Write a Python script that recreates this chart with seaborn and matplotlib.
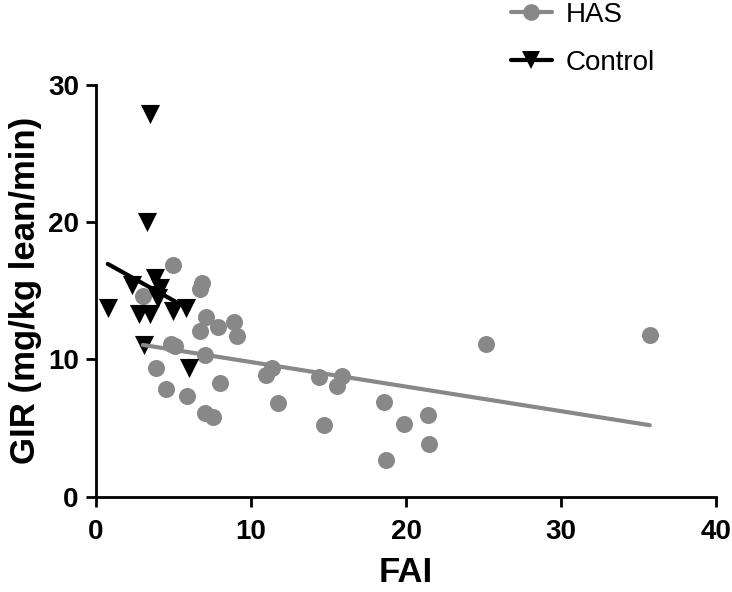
"""GIR vs FAI scatter with linear fits for HAS and Control groups."""

import matplotlib
matplotlib.use("Agg")
import matplotlib.pyplot as plt
from matplotlib.lines import Line2D
import pandas as pd
import seaborn as sns

# HAS group (grey circles)
has_fai = [4.98, 6.85, 6.70, 3.05, 7.11, 6.74, 7.92, 8.89, 9.11, 4.87, 5.13,
           7.02, 3.88, 7.99, 4.55, 5.92, 7.06, 7.56, 11.37, 11.0, 14.37, 15.88,
           15.56, 11.73, 14.7, 18.57, 19.86, 21.4, 21.5, 18.72, 25.17, 35.7]
has_gir = [16.9, 15.6, 15.1, 14.65, 13.1, 12.1, 12.4, 12.7, 11.7, 11.15, 10.95,
           10.3, 9.37, 8.3, 7.84, 7.35, 6.13, 5.84, 9.37, 8.88, 8.71, 8.76,
           8.08, 6.86, 5.23, 6.89, 5.28, 5.96, 3.85, 2.68, 11.12, 11.8]

# Control group (black triangles)
ctrl_fai = [3.52, 3.30, 2.33, 3.84, 4.16, 3.88, 4.0, 0.79, 2.8, 3.52, 4.96,
            5.82, 3.15, 6.0]
ctrl_gir = [27.9, 20.0, 15.4, 15.9, 15.2, 14.7, 14.5, 13.75, 13.3, 13.3, 13.5,
            13.75, 11.07, 9.37]

x_ticks = [0, 10, 20, 30, 40]
y_ticks = [0, 10, 20, 30]

has = pd.DataFrame({"FAI": has_fai, "GIR": has_gir})
ctrl = pd.DataFrame({"FAI": ctrl_fai, "GIR": ctrl_gir})

GREY = "#888888"
BLACK = "#000000"

sns.set_style("ticks", {"axes.edgecolor": BLACK, "axes.labelcolor": BLACK,
                        "text.color": BLACK, "xtick.color": BLACK,
                        "ytick.color": BLACK})
plt.rcParams["font.family"] = ["Liberation Sans", "DejaVu Sans"]

fig = plt.figure(figsize=(7.32, 5.92), dpi=100)
ax = fig.add_axes([0.1305, 0.161, 0.8483, 0.6954])

sns.scatterplot(data=has, x="FAI", y="GIR", ax=ax, color=GREY, marker="o",
                s=150, linewidth=0, clip_on=False, zorder=2)
sns.scatterplot(data=ctrl, x="FAI", y="GIR", ax=ax, color=BLACK, marker="v",
                s=190, linewidth=0, clip_on=False, zorder=3)
sns.regplot(data=has, x="FAI", y="GIR", ax=ax, scatter=False, ci=None,
            truncate=True, color=GREY, line_kws={"linewidth": 3, "zorder": 4})
sns.regplot(data=ctrl, x="FAI", y="GIR", ax=ax, scatter=False, ci=None,
            truncate=True, color=BLACK, line_kws={"linewidth": 3, "zorder": 5})

ax.set_xlim(0, 40)
ax.set_ylim(0, 30)
ax.set_xticks(x_ticks)
ax.set_yticks(y_ticks)
sns.despine(ax=ax)
for side in ["left", "bottom"]:
    ax.spines[side].set_linewidth(2)
    ax.spines[side].set_color(BLACK)
ax.tick_params(axis="both", direction="out", length=7, width=2,
               labelsize=20, colors=BLACK)
ax.tick_params(axis="x", pad=9)
ax.tick_params(axis="y", pad=5)
for lab in ax.get_xticklabels() + ax.get_yticklabels():
    lab.set_fontweight("bold")

ax.set_xlabel("FAI", fontsize=25, fontweight="bold", labelpad=8)
ax.set_ylabel("GIR (mg/kg lean/min)", fontsize=25, fontweight="bold", labelpad=4)

handles = [
    Line2D([], [], color=GREY, marker="o", markersize=12, linewidth=3,
           markeredgewidth=0),
    Line2D([], [], color=BLACK, marker="v", markersize=13, linewidth=3,
           markeredgewidth=0),
]
fig.legend(handles, ["HAS", "Control"], loc="upper left",
           bbox_to_anchor=(511 / 732, 1 - 1.5 / 592), frameon=False,
           fontsize=20, handlelength=1.47, handletextpad=0.5,
           labelspacing=0.8, borderpad=0, borderaxespad=0)

fig.savefig("out.png", dpi=100)
plt.close(fig)
